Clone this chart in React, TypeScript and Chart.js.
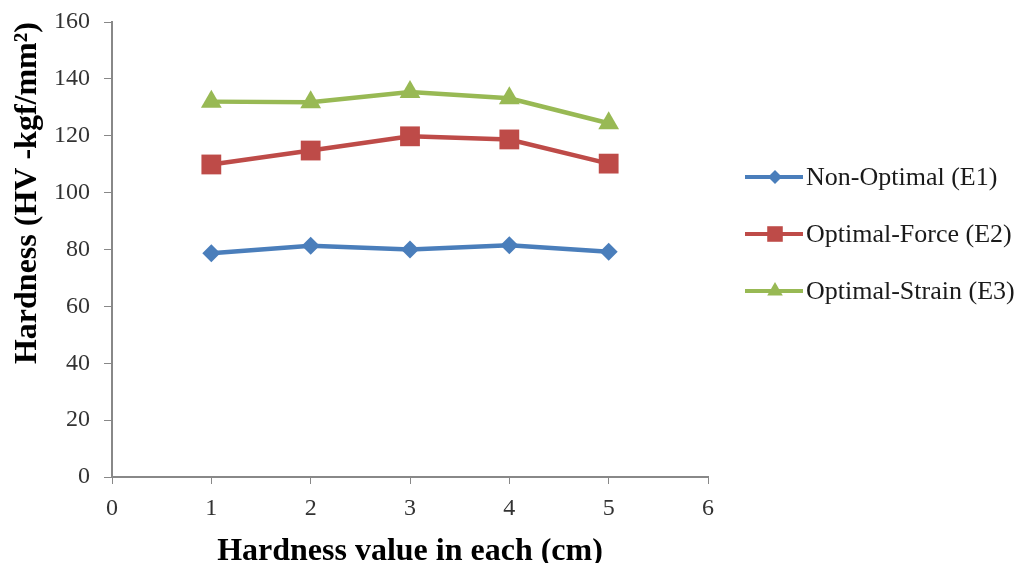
import React, { useEffect, useRef } from "react";
import { Chart, registerables } from "chart.js";

Chart.register(...registerables);

const positions = [1, 2, 3, 4, 5];
const nonOptimal = [78.7, 81.3, 80.0, 81.5, 79.2];
const optimalForce = [109.9, 114.8, 119.8, 118.7, 110.2];
const optimalStrain = [132.0, 131.8, 135.4, 133.2, 124.4];
const seriesNames = ["Non-Optimal (E1)", "Optimal-Force (E2)", "Optimal-Strain (E3)"];
const seriesColors = ["#4A7EBB", "#BE4B48", "#98B954"];
const seriesStyles = ["rectRot", "rect", "triangle"];
const seriesRadius = [9, 14, 12];
const legendRadius = [7, 11, 9];
const xTitle = "Hardness value in each (cm)";
const yTitle = "Hardness (HV -kgf/mm²)";

const FONT = "'Liberation Serif', 'Times New Roman', serif";

function drawMarker(ctx: CanvasRenderingContext2D, style: string, x: number, y: number, r: number) {
  ctx.beginPath();
  if (style === "rectRot") {
    ctx.moveTo(x, y - r);
    ctx.lineTo(x + r, y);
    ctx.lineTo(x, y + r);
    ctx.lineTo(x - r, y);
  } else if (style === "rect") {
    const s = Math.SQRT1_2 * r;
    ctx.rect(x - s, y - s, 2 * s, 2 * s);
  } else {
    const w = (r * Math.sqrt(3)) / 2;
    ctx.moveTo(x, y - r);
    ctx.lineTo(x + w, y + r / 2);
    ctx.lineTo(x - w, y + r / 2);
  }
  ctx.closePath();
  ctx.fill();
}

const legendPlugin = {
  id: "sideLegend",
  afterDraw(chart: any) {
    const ctx: CanvasRenderingContext2D = chart.ctx;
    const x0 = 745;
    const lineLen = 58;
    const ys = [177, 234, 291];
    ctx.save();
    chart.data.datasets.forEach((ds: any, i: number) => {
      const y = ys[i];
      ctx.strokeStyle = ds.borderColor;
      ctx.fillStyle = ds.borderColor;
      ctx.lineWidth = 4;
      ctx.beginPath();
      ctx.moveTo(x0, y);
      ctx.lineTo(x0 + lineLen, y);
      ctx.stroke();
      drawMarker(ctx, seriesStyles[i], x0 + 30, y, legendRadius[i]);
      ctx.fillStyle = "#1a1a1a";
      ctx.font = `26px ${FONT}`;
      ctx.textBaseline = "middle";
      ctx.textAlign = "left";
      ctx.fillText(ds.label, x0 + lineLen + 3, y + 1);
    });
    ctx.restore();
  },
};

export default function App() {
  const ref = useRef<HTMLCanvasElement>(null);
  useEffect(() => {
    document.body.style.margin = "0";
    const allSeries = [nonOptimal, optimalForce, optimalStrain];
    const chart = new Chart(ref.current!, {
      type: "line",
      data: {
        datasets: allSeries.map((vals, i) => ({
          label: seriesNames[i],
          data: positions.map((p, j) => ({ x: p, y: vals[j] })),
          borderColor: seriesColors[i],
          backgroundColor: seriesColors[i],
          borderWidth: 4.5,
          pointStyle: seriesStyles[i] as any,
          pointRadius: seriesRadius[i],
          pointBorderWidth: 0,
          pointBackgroundColor: seriesColors[i],
          tension: 0,
        })),
      },
      options: {
        animation: false,
        responsive: false,
        layout: { padding: { top: 22, right: 312, left: 0, bottom: 0 } },
        plugins: { legend: { display: false }, tooltip: { enabled: false } },
        scales: {
          x: {
            type: "linear",
            min: 0,
            max: 6,
            ticks: { stepSize: 1, color: "#333", font: { family: FONT, size: 24 }, padding: 10 },
            grid: { drawOnChartArea: false, drawTicks: true, tickLength: 7, color: "#888", tickColor: "#888" },
            border: { color: "#888", width: 2 },
            title: { display: true, text: xTitle, color: "#000", font: { family: FONT, size: 32, weight: "bold", lineHeight: 0.7 }, padding: { top: 0, bottom: 0 } },
            afterFit(scale: any) { scale.height = 86; },
          },
          y: {
            min: 0,
            max: 160,
            ticks: { stepSize: 20, color: "#333", font: { family: FONT, size: 24 }, padding: 14 },
            grid: { drawOnChartArea: false, drawTicks: true, tickLength: 8, color: "#888", tickColor: "#888" },
            border: { color: "#888", width: 2 },
            title: { display: true, text: yTitle, align: "end", color: "#000", font: { family: FONT, size: 32, weight: "bold" }, padding: { top: 9, bottom: 0 } },
            afterFit(scale: any) {
              scale.width = 112;
              scale.paddingTop = 0;
              scale.paddingBottom = 0;
            },
          },
        },
      },
      plugins: [legendPlugin],
    });
    return () => chart.destroy();
  }, []);
  return (
    <div style={{ width: 1020, height: 563 }}>
      <canvas ref={ref} width={1020} height={563} style={{ display: "block" }} />
    </div>
  );
}
